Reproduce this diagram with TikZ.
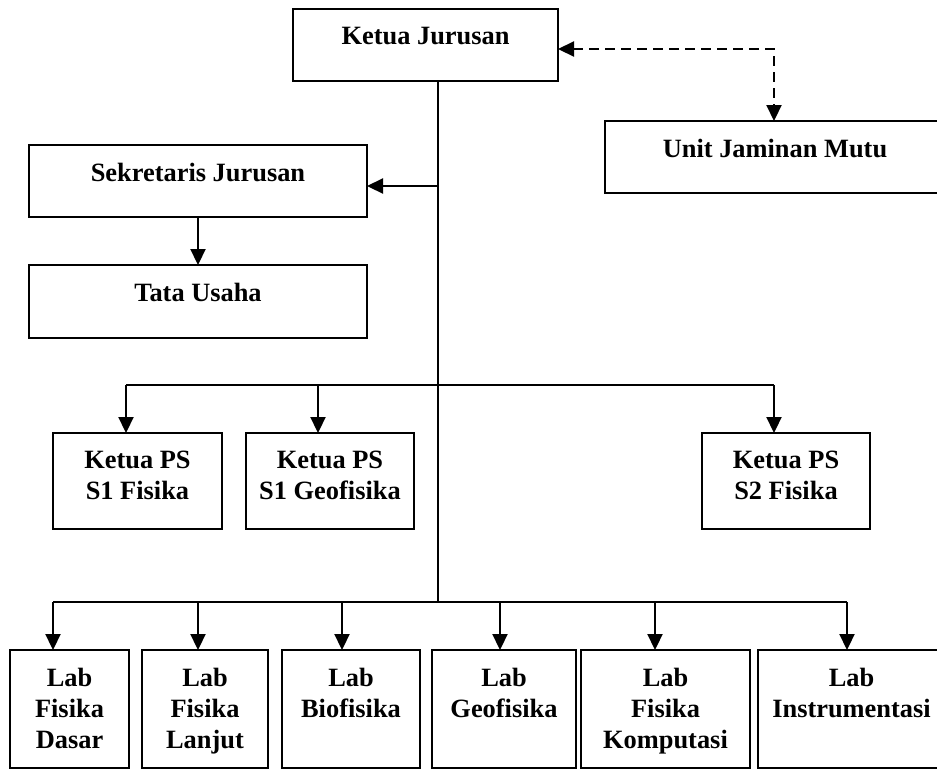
\documentclass[tikz,border=0pt]{standalone}
\usepackage{fontspec}
\setmainfont{Liberation Serif}
\usetikzlibrary{arrows.meta,positioning,calc}

\tikzset{
  box/.style={draw=black, line width=2.4pt, inner sep=0pt, outer sep=0pt, fill=white},
  lbl/.style={font=\fontsize{26.4}{31}\selectfont\bfseries, align=center, inner sep=0pt, anchor=north},
  link/.style={line width=2.2pt, -{Triangle[length=16pt,width=15pt]}},
  plain/.style={line width=2.2pt},
  dlink/.style={line width=2.2pt, dash pattern=on 10pt off 6pt,
                {Triangle[length=16pt,width=15pt]}-{Triangle[length=16pt,width=15pt]}},
}

% place a box from (x1,y1) to (x2,y2) and its caption 18pt below the top edge
\newcommand{\orgbox}[6]{%
  \node[box, minimum width={#4-#2}, minimum height={#5-#3}] (#1) at ({(#2+#4)/2},{(#3+#5)/2}) {};
  \node[lbl] (#1-t) at ([yshift=-18pt]#1.north) {#6};
}

\begin{document}
\begin{tikzpicture}[x=1pt, y=-1pt]
  \useasboundingbox[fill=white] (0,0) rectangle (937,769);

  % management
  \orgbox{kj}{293}{9}{558}{81}{Ketua Jurusan}
  \orgbox{ujm}{605}{121}{945}{193}{Unit Jaminan Mutu}
  \orgbox{sj}{29}{145}{367}{217}{Sekretaris Jurusan}
  \orgbox{tu}{29}{265}{367}{338}{Tata Usaha}

  % study programmes
  \orgbox{ps1}{53}{433}{222}{529}{Ketua PS\\S1 Fisika}
  \orgbox{ps2}{246}{433}{414}{529}{Ketua PS\\S1 Geofisika}
  \orgbox{ps3}{702}{433}{870}{529}{Ketua PS\\S2 Fisika}

  % laboratories
  \orgbox{lab1}{10}{650}{129}{768}{Lab\\Fisika\\Dasar}
  \orgbox{lab2}{142}{650}{268}{768}{Lab\\Fisika\\Lanjut}
  \orgbox{lab3}{282}{650}{420}{768}{Lab\\Biofisika}
  \orgbox{lab4}{432}{650}{576}{768}{Lab\\Geofisika}
  \orgbox{lab5}{581}{650}{750}{768}{Lab\\Fisika\\Komputasi}
  \orgbox{lab6}{758}{650}{945}{768}{Lab\\Instrumentasi}

  % junction points of the main trunk
  \coordinate (tsj) at (438,186);
  \coordinate (tps) at (438,385);
  \coordinate (tlab) at (438,602);

  % main trunk
  \draw[plain] (kj.south -| tsj) -- (tlab);

  % secretary branch
  \draw[link] (tsj) -- (sj.east |- tsj);
  \draw[link] (sj.south) -- (tu.north);

  % quality unit (dashed, both directions)
  \coordinate (qc) at (774,49);
  \draw[dlink] (kj.east |- qc) -- (qc) -- (ujm.north -| qc);

  % study programme bus
  \coordinate (pa) at (126,385);
  \coordinate (pb) at (318,385);
  \coordinate (pc) at (774,385);
  \draw[plain] (pa) -- (pc);
  \draw[link] (pa) -- (ps1.north -| pa);
  \draw[link] (pb) -- (ps2.north -| pb);
  \draw[link] (pc) -- (ps3.north -| pc);

  % laboratory bus
  \coordinate (la) at (53,602);
  \coordinate (lb) at (198,602);
  \coordinate (lc) at (342,602);
  \coordinate (ld) at (500,602);
  \coordinate (le) at (655,602);
  \coordinate (lf) at (847,602);
  \draw[plain] (la) -- (lf);
  \draw[link] (la) -- (lab1.north -| la);
  \draw[link] (lb) -- (lab2.north -| lb);
  \draw[link] (lc) -- (lab3.north -| lc);
  \draw[link] (ld) -- (lab4.north -| ld);
  \draw[link] (le) -- (lab5.north -| le);
  \draw[link] (lf) -- (lab6.north -| lf);
\end{tikzpicture}
\end{document}
